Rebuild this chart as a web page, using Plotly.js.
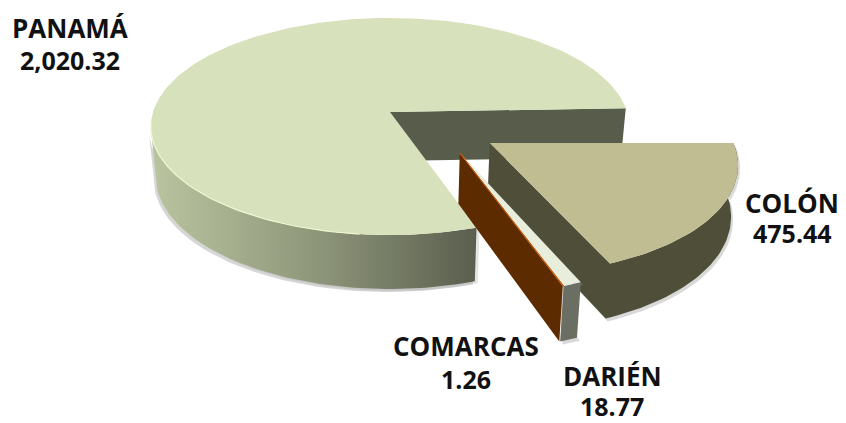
<!DOCTYPE html>
<html><head><meta charset="utf-8">
<script src="https://cdn.plot.ly/plotly-3.0.1.min.js"></script>
<style>html,body{margin:0;padding:0;background:#fff}#c{width:846px;height:423px}</style>
</head><body><div id="c"></div>
<script>
// ---- data ----
const categories = ["COLÓN", "DARIÉN", "COMARCAS", "PANAMÁ"];
const values = [475.44, 18.77, 1.26, 2020.32];
const valueLabels = ["475.44", "18.77", "1.26", "2,020.32"];

// ---- label placement (centre x, centre y of each line) ----
const labelX = [792, 612, 466, 70];
const nameY = [203, 376, 346, 28];
const valueY = [233, 406, 379, 60];

// ---- 3D pie geometry: a circle in the (u,v) plane seen in perspective ----
const startDeg = -1, cx = 390, cy = 112, B = 237, A = 106.6, K = 0.1336;
const H = 49, HK = 0.1, SHRINK = 0.98;
const offsetU = [0.405, 0.28, 0.28, 0];
const offsetV = [0.279, 0.366, 0.366, 0];
const radius = [0.99, 1.025, 1.025, 1];
// small drawing adjustments to the slice edges, degrees
const edgeStart = [1, 1, 2, 1.5];
const edgeEnd = [0.7, 2, 2, -1];

const total = values.reduce((a, b) => a + b, 0);
let acc = startDeg;
const spans = values.map((v, i) => {
  const s = acc; acc += v / total * 360;
  return [s + edgeStart[i], acc + edgeEnd[i]];
});

function proj(u, v) {
  const d = 1 - K * v;
  return { x: cx + B * u / d, y: cy + A * v / d, v: v };
}
function low(p) {
  return { x: cx + (p.x - cx) * SHRINK, y: p.y + H * (1 + HK * p.v), v: p.v };
}
function arc(i, a0, a1) {
  const n = Math.max(2, Math.ceil(Math.abs(a1 - a0) / 1.5)), pts = [];
  for (let k = 0; k <= n; k++) {
    const t = (a0 + (a1 - a0) * k / n) * Math.PI / 180;
    pts.push(proj(offsetU[i] + radius[i] * Math.cos(t), offsetV[i] + radius[i] * Math.sin(t)));
  }
  return pts;
}
const apex = i => proj(offsetU[i], offsetV[i]);

const traces = [];
function poly(pts, color, extra) {
  traces.push(Object.assign({
    type: "scatter", mode: "lines", x: pts.map(p => p.x).concat(pts[0].x),
    y: pts.map(p => p.y).concat(pts[0].y), fill: "toself", fillcolor: color,
    line: { width: 0, color: color }, hoverinfo: "skip", showlegend: false
  }, extra || {}));
}
function wall(pts) { return pts.concat(pts.slice().reverse().map(low)); }
function shift(pts, dx, dy) { return pts.map(p => ({ x: p.x + dx, y: p.y + dy, v: p.v })); }

// PANAMÁ
const P = 3, pS = spans[P];
const pWall = wall(arc(P, pS[0], 170));
poly(shift(pWall, -2, 3), "rgba(120,120,120,0.30)");
poly(shift(pWall, 3, 2), "rgba(150,150,150,0.25)");
poly(pWall, "#8f977b", {
  fillgradient: { type: "horizontal", start: 152, stop: 476,
    colorscale: [[0, "#bac49f"], [0.5, "#8f977b"], [1, "#5a5f4e"]] }
});
poly(wall([apex(P), arc(P, pS[1], pS[1])[0]]), "#585c4b");
poly([apex(P)].concat(arc(P, pS[0], pS[1])), "#d7e1bb");
const rim = arc(P, pS[0] + 25, 175);
traces.push({ type: "scatter", mode: "lines", x: rim.map(p => p.x), y: rim.map(p => p.y),
  line: { color: "#f0f6cf", width: 1.2 }, hoverinfo: "skip", showlegend: false });

// COLÓN
const C = 0, cS = spans[C];
const cOut = [apex(C)].concat(arc(C, cS[1], cS[0]));
poly(shift(wall(cOut), 2, 3), "rgba(130,130,130,0.30)");
poly(wall(cOut), "#4f4f39");
poly(cOut, "#c0bd93");

// DARIÉN and COMARCAS
const D = 1, M = 2, dS = spans[D], mS = spans[M];
const dOut = [apex(D)].concat(arc(D, dS[0], dS[1]));
const mOut = [apex(M)].concat(arc(M, mS[0], mS[1]));
poly(shift(wall(dOut.concat(mOut.slice(1))), 3, 3), "rgba(130,130,130,0.30)");
poly(wall(arc(D, dS[0], dS[1])), "#6b6e62");
poly(wall([apex(M), arc(M, mS[1], mS[1])[0]]), "#5c2c00");
poly(dOut, "#e8eddc");
poly(mOut, "#c05a10", { line: { width: 1, color: "#c05a10" } });

const labelFont = size => ({ family: "'Open Sans', sans-serif", size: size, color: "#111", weight: 700 });
const annotations = [];
categories.forEach((c, i) => {
  annotations.push({ x: labelX[i], y: nameY[i], xref: "x", yref: "y", showarrow: false,
    xanchor: "center", yanchor: "middle", text: c, font: labelFont(26) });
  annotations.push({ x: labelX[i], y: valueY[i], xref: "x", yref: "y", showarrow: false,
    xanchor: "center", yanchor: "middle", text: valueLabels[i], font: labelFont(25) });
});

Plotly.newPlot("c", traces, {
  width: 846, height: 423, margin: { l: 0, r: 0, t: 0, b: 0 },
  paper_bgcolor: "#fff", plot_bgcolor: "#fff", showlegend: false,
  xaxis: { range: [0, 846], visible: false, fixedrange: true },
  yaxis: { range: [423, 0], visible: false, fixedrange: true },
  annotations: annotations
}, { displayModeBar: false, staticPlot: true });
</script></body></html>
